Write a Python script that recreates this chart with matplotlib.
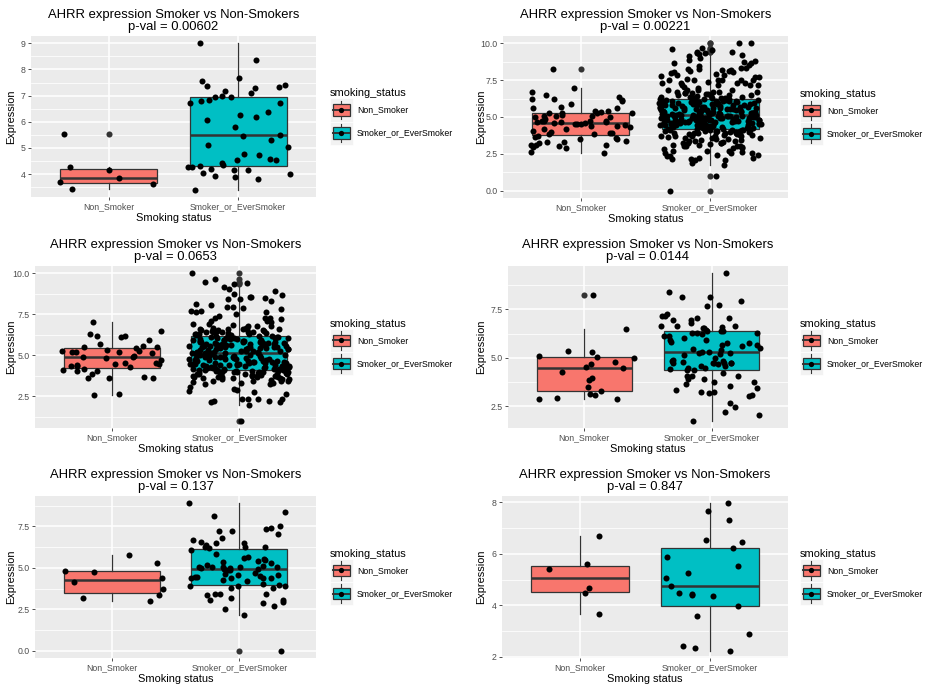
import numpy as np
import matplotlib
matplotlib.use("Agg")
import matplotlib.pyplot as plt
from matplotlib.ticker import AutoMinorLocator, FixedLocator, FormatStrFormatter
from matplotlib.patches import Rectangle
from matplotlib.lines import Line2D

plt.rcParams["font.family"] = ["Liberation Sans", "DejaVu Sans"]

# ------------------ data ------------------
CATEGORIES = ["Non_Smoker", "Smoker_or_EverSmoker"]
P_VALUES = ["0.00602", "0.00221", "0.0653", "0.0144", "0.137", "0.847"]
Y_TICKS = [
    [4, 5, 6, 7, 8, 9],
    [0.0, 2.5, 5.0, 7.5, 10.0],
    [2.5, 5.0, 7.5, 10.0],
    [2.5, 5.0, 7.5],
    [0.0, 2.5, 5.0, 7.5],
    [2, 4, 6, 8],
]
Y_FORMATS = ["%d", "%.1f", "%.1f", "%.1f", "%.1f", "%d"]

p1_non = [4.25, 4.14, 3.85, 3.71, 3.41, 3.63, 5.54]
p1_smk = [9.00, 7.39, 7.11, 7.19, 7.66, 7.29, 6.96, 6.80, 6.38, 6.18, 6.24, 5.32,
          5.45, 5.05, 5.10, 4.78, 4.52, 4.35, 4.16, 4.21, 4.59, 4.52, 4.29, 3.90,
          3.91, 3.40, 7.32, 6.96, 7.55, 8.35, 7.35, 6.70, 6.85, 6.72, 6.08, 7.00,
          5.78, 5.51, 4.74, 4.44, 4.25, 4.02, 3.99, 4.14, 3.82, 4.25]

p2_non = [6.70, 5.60, 4.74, 4.67, 5.15, 3.68, 3.32, 3.12, 3.57, 4.51, 4.74, 4.63,
          5.24, 4.97, 4.40, 6.09, 6.25, 3.91, 3.86, 3.23, 2.60, 3.02, 2.55, 3.50,
          3.54, 3.95, 5.26, 5.08, 4.29, 3.39, 3.27, 6.95, 5.71, 4.72, 4.06, 3.12,
          5.87, 6.21, 4.40, 3.09, 4.58, 5.26, 5.35, 4.97, 4.45, 4.18, 3.84, 4.74,
          4.51, 3.88, 6.14, 5.42, 2.93, 2.87, 6.50, 5.26, 5.08, 4.58, 4.18, 3.61,
          6.39, 5.42, 4.85, 4.51, 4.63, 5.08, 8.24, 5.64]
p2_smk = [
    # below the box
    0.00, 1.00, 1.76, 1.87, 2.10, 2.10, 2.14, 2.14, 2.21, 2.21,
    2.32, 2.32, 2.44, 2.44, 2.55, 2.55, 2.55, 2.61, 2.66, 2.66,
    2.72, 2.80, 2.89, 2.89, 2.95, 3.00, 3.00, 3.00, 3.06, 3.12,
    3.12, 3.18, 3.23, 3.23, 3.23, 3.23, 3.29, 3.34, 3.34, 3.40,
    3.45, 3.45, 3.50, 3.52, 3.57, 3.57, 3.60, 3.64, 3.68, 3.68,
    3.68, 3.70, 3.72, 3.75, 3.78, 3.80, 3.83, 3.85, 3.88, 3.90,
    3.90, 3.90, 3.92, 3.95, 3.97, 4.00, 4.00, 4.02, 4.04, 4.05,
    4.07, 4.08, 4.10, 4.11, 4.12, 4.13, 4.14, 4.15, 4.16, 4.17,
    # inside the box
    4.19, 4.21, 4.24, 4.24, 4.27, 4.30, 4.31, 4.33, 4.36, 4.37,
    4.39, 4.40, 4.43, 4.44, 4.46, 4.48, 4.49, 4.52, 4.53, 4.55,
    4.56, 4.58, 4.60, 4.61, 4.63, 4.64, 4.66, 4.67, 4.70, 4.71,
    4.72, 4.74, 4.75, 4.77, 4.78, 4.79, 4.81, 4.82, 4.84, 4.85,
    4.86, 4.88, 4.89, 4.90, 4.92, 4.93, 4.94, 4.95, 4.97, 4.98,
    4.99, 5.00, 5.01, 5.02, 5.03, 5.04, 5.05, 5.05, 5.06, 5.07,
    4.28, 4.35, 4.51, 4.62, 4.69, 4.80, 4.91, 5.08, 4.45, 4.57,
    4.73, 4.87, 4.96, 5.09, 4.22, 4.41, 4.59, 4.76, 4.83, 5.10,
    5.11, 5.13, 5.14, 5.16, 5.17, 5.19, 5.21, 5.22, 5.24, 5.25,
    5.27, 5.29, 5.30, 5.32, 5.34, 5.35, 5.37, 5.39, 5.41, 5.42,
    5.44, 5.46, 5.48, 5.49, 5.51, 5.53, 5.55, 5.56, 5.58, 5.60,
    5.62, 5.64, 5.66, 5.67, 5.69, 5.71, 5.73, 5.75, 5.77, 5.79,
    5.81, 5.83, 5.85, 5.87, 5.89, 5.91, 5.93, 5.95, 5.97, 5.99,
    6.01, 6.03, 6.05, 6.07, 6.09, 6.11, 6.13, 6.15, 6.17, 6.20,
    5.15, 5.28, 5.45, 5.63, 5.80, 5.98, 6.12, 6.22, 5.20, 5.38,
    5.52, 5.70, 5.88, 6.04, 6.18, 6.24, 5.33, 5.59, 5.84, 6.10,
    # above the box
    9.03, 8.87, 8.76, 7.56, 7.29, 7.02, 6.39, 6.39, 8.01, 7.74,
    7.34, 8.15, 6.73, 6.39, 6.95, 7.52, 8.46, 7.79, 7.16, 7.52,
    8.24, 6.84, 6.50, 7.18, 9.14, 9.32, 8.08, 8.31, 7.52, 6.73,
    7.86, 7.29, 9.44, 10.00, 10.00, 9.70, 9.60, 8.65, 8.19, 7.52,
    8.15, 6.84, 7.52, 7.16, 7.40, 6.84, 7.74, 8.31, 9.28, 9.44,
    8.78, 8.24, 7.52, 6.84, 9.32, 9.55, 9.21, 8.53, 8.65, 8.19,
    7.86, 8.08, 7.29, 7.93, 7.18, 6.50, 6.73, 6.61, 6.27, 6.30,
    6.32, 6.35, 6.42, 6.45, 6.48, 6.55, 6.58, 6.62, 6.66, 6.70,
]

p3_non = [7.00, 5.90, 6.09, 6.47, 4.02, 5.50, 5.24, 5.18, 4.89, 4.97, 4.83, 4.53,
          4.16, 4.12, 4.28, 3.59, 3.59, 3.59, 3.68, 4.73, 5.14, 4.47, 4.43, 4.32,
          5.50, 6.15, 5.18, 5.22, 5.26, 4.53, 4.06, 6.15, 5.30, 5.42, 5.58, 5.68,
          4.47, 4.32, 6.31, 4.89, 3.84, 2.56, 2.60]
p3_smk = [
    # below the box
    3.96, 3.55, 3.31, 3.04, 2.84, 3.69, 3.85, 3.45, 3.96, 2.64,
    2.13, 2.33, 3.45, 3.31, 2.33, 3.25, 2.23, 2.90, 3.75, 3.65,
    3.55, 3.45, 2.33, 2.23, 2.13, 3.65, 3.45, 2.94, 3.25, 2.33,
    1.97, 3.96, 3.75, 3.35, 2.74, 3.55, 3.65, 3.96, 1.00, 3.50,
    3.58, 3.60, 3.62, 3.68, 3.70, 3.72, 3.74, 3.78, 3.80, 3.82,
    3.84, 3.86, 3.88, 3.90, 3.91, 3.93, 3.95, 3.98, 4.00, 4.01,
    4.02, 4.04, 4.05, 4.06, 4.07, 4.08, 4.09, 4.10, 4.11, 4.11,
    # inside the box
    4.13, 4.15, 4.16, 4.18, 4.20, 4.22, 4.24, 4.25, 4.27, 4.29,
    4.31, 4.33, 4.35, 4.37, 4.38, 4.40, 4.42, 4.44, 4.46, 4.48,
    4.50, 4.52, 4.53, 4.55, 4.57, 4.59, 4.61, 4.63, 4.65, 4.67,
    4.69, 4.71, 4.73, 4.75, 4.77, 4.79, 4.81, 4.83, 4.85, 4.87,
    4.89, 4.91, 4.93, 4.95, 4.97, 4.99, 5.01, 5.03, 5.05, 5.07,
    5.09, 5.11, 5.13, 5.14, 4.26, 4.41, 4.58, 4.74, 4.90, 5.06,
    4.19, 4.34, 4.49, 4.64, 4.80, 4.96, 5.12, 4.45, 4.86, 5.15,
    5.16, 5.18, 5.20, 5.22, 5.24, 5.26, 5.28, 5.30, 5.32, 5.34,
    5.36, 5.38, 5.40, 5.41, 5.43, 5.45, 5.47, 5.49, 5.51, 5.52,
    5.54, 5.56, 5.58, 5.60, 5.61, 5.63, 5.65, 5.67, 5.69, 5.70,
    5.72, 5.74, 5.76, 5.78, 5.80, 5.82, 5.84, 5.86, 5.88, 5.90,
    5.92, 5.94, 5.96, 5.98, 6.00, 6.02, 6.04, 6.06, 6.08, 6.10,
    6.12, 6.14, 6.16, 6.18, 5.44, 5.55, 5.62, 5.73, 5.85, 5.57,
    5.48, 5.66, 5.79, 5.91, 6.05, 5.25, 5.35, 5.53, 5.68, 5.83,
    # above the box
    10.00, 9.63, 9.45, 9.33, 9.19, 9.03, 8.92, 9.40, 8.58, 8.46,
    8.32, 8.42, 8.50, 8.66, 8.58, 7.97, 7.30, 7.20, 7.61, 7.30,
    7.10, 6.84, 6.63, 6.69, 6.79, 7.91, 8.05, 7.97, 8.11, 6.79,
    6.55, 7.71, 7.40, 7.10, 6.90, 6.59, 7.00, 6.59, 7.71, 7.85,
    7.30, 6.69, 6.43, 6.79, 6.63, 6.63, 6.55, 6.90, 6.39, 6.39,
    6.39, 6.39, 6.29, 6.20, 6.21, 6.23, 6.25, 6.26, 6.28, 6.30,
    6.32, 6.34, 6.36, 6.45, 6.48, 6.50, 6.52, 7.50, 7.62, 8.72,
]

p4_non = [8.26, 2.88, 2.85, 4.78, 4.66, 5.32, 5.10, 4.45, 4.27, 3.87, 3.48,
          6.50, 3.09, 4.98, 2.94, 3.29, 3.94, 4.50, 5.05, 3.14, 5.36]
p4_smk = [9.35, 8.41, 8.12, 7.68, 8.12, 7.73, 7.05, 6.96, 6.79, 7.27,
          6.59, 6.11, 6.03, 5.91, 6.37, 6.11, 5.68, 5.12, 4.83, 4.80,
          6.37, 6.28, 5.43, 5.29, 5.22, 5.68, 4.75, 4.49, 4.43, 4.37,
          4.37, 6.37, 6.54, 6.28, 5.80, 5.39, 4.83, 4.75, 4.75, 4.71,
          6.62, 7.05, 6.28, 5.91, 5.26, 4.49, 4.24, 4.57, 4.75, 4.66,
          6.62, 5.77, 5.60, 5.26, 5.00, 4.75, 5.51, 7.13, 6.96, 6.20,
          7.90, 6.62, 6.54, 7.13, 5.77, 5.29, 4.86, 4.57, 6.45, 4.07,
          3.90, 3.73, 3.64, 3.25, 3.42, 3.18, 4.07, 3.25, 3.73, 3.04,
          2.66, 3.07, 4.07, 3.54, 3.90, 3.35, 2.44, 2.19, 2.07, 1.76]

p5_non = [3.02, 3.15, 5.26, 4.40, 4.80, 4.72, 3.75, 3.35, 5.75, 4.15]
p5_smk = [8.89, 8.15, 8.39, 7.42, 7.22, 7.34, 7.54, 7.20, 7.02, 6.51,
          6.79, 6.67, 6.23, 6.23, 6.07, 6.47, 6.37, 6.23, 6.53, 6.17,
          5.83, 5.67, 5.28, 5.48, 5.52, 5.44, 5.58, 5.38, 5.18, 5.04,
          4.88, 4.68, 4.42, 4.64, 5.04, 4.92, 5.12, 5.04, 4.92, 4.98,
          4.84, 4.98, 5.04, 5.04, 4.48, 4.58, 4.38, 4.38, 4.58, 4.28,
          4.19, 4.42, 4.38, 4.38, 3.89, 3.93, 3.79, 3.89, 3.79, 3.39,
          3.33, 3.43, 2.86, 3.19, 3.39, 3.06, 2.70, 2.50, 2.16, 2.94,
          3.06, 0.00, 3.97, 4.02]

p6_non = [6.69, 3.67, 4.47, 4.69, 5.41, 5.59]
p6_smk = [7.96, 7.68, 7.32, 6.52, 6.45, 6.22, 5.86, 5.54, 5.24, 5.05, 4.76,
          4.42, 4.35, 4.43, 4.47, 3.99, 3.58, 2.89, 2.42, 2.24, 2.34]

NON = [p1_non, p2_non, p3_non, p4_non, p5_non, p6_non]
SMK = [p1_smk, p2_smk, p3_smk, p4_smk, p5_smk, p6_smk]

# ------------------ layout / style ------------------
W, H = 941, 690
# panel boxes in pixels: left, top, right, bottom
PANELS = [(31, 36, 316, 197), (503, 36, 788, 198),
          (35, 266, 316, 428), (508, 266, 788, 428),
          (35, 496, 316, 658), (502, 496, 788, 658)]
COL_X = [0, 470]        # left edge of each figure column
LEGEND_X = [330, 800]
FILLS = ["#F8766D", "#00BFC4"]
DARK = "#333333"
TICK_FS = 6.3
LAB_FS = 7.9
TITLE_FS = 9.4


class BoxKey:
    def __init__(self, fill):
        self.fill = fill


class BoxKeyHandler:
    # ggplot-like boxplot legend key with the jitter dot on top
    def legend_artist(self, legend, orig_handle, fontsize, handlebox):
        x0, y0 = -handlebox.xdescent, -handlebox.ydescent
        w, h = handlebox.width, handlebox.height
        tr = handlebox.get_transform()
        cx, cy = x0 + w / 2, y0 + h / 2
        bg = Rectangle((x0, y0), w, h, facecolor="#F2F2F2", edgecolor="white",
                       linewidth=0.5, transform=tr)
        whisk = Line2D([cx, cx], [y0 + 0.1 * h, y0 + 0.9 * h], color=DARK,
                       linewidth=0.8, transform=tr)
        box = Rectangle((x0 + 0.125 * w, y0 + 0.25 * h), 0.75 * w, 0.5 * h,
                        facecolor=orig_handle.fill, edgecolor=DARK,
                        linewidth=0.9, transform=tr)
        med = Line2D([x0 + 0.125 * w, x0 + 0.875 * w], [cy, cy], color=DARK,
                     linewidth=1.4, transform=tr)
        dot = Line2D([cx], [cy], marker="o", markersize=3.8, color="black",
                     markeredgewidth=0, linestyle="none", transform=tr)
        for a in (bg, whisk, box, med, dot):
            handlebox.add_artist(a)
        return box


rng = np.random.default_rng(11)  # horizontal jitter, like geom_jitter(width=0.4)

fig = plt.figure(figsize=(W / 100, H / 100), dpi=100)

for i, (l, t, r, b) in enumerate(PANELS):
    ax = fig.add_axes([l / W, 1 - b / H, (r - l) / W, (b - t) / H])
    ax.set_facecolor("#EBEBEB")
    for s in ax.spines.values():
        s.set_visible(False)

    groups = [NON[i], SMK[i]]
    bp = ax.boxplot(groups, positions=[1, 2], widths=0.75, patch_artist=True,
                    showcaps=False, whis=1.5, manage_ticks=False,
                    boxprops=dict(edgecolor=DARK, linewidth=0.9),
                    whiskerprops=dict(color=DARK, linewidth=0.9),
                    medianprops=dict(color=DARK, linewidth=1.8),
                    flierprops=dict(marker="o", markerfacecolor=DARK,
                                    markeredgewidth=0, markersize=4.4))
    for patch, col in zip(bp["boxes"], FILLS):
        patch.set_facecolor(col)
        patch.set_zorder(2)

    for pos, vals in zip([1, 2], groups):
        off = rng.uniform(-0.4, 0.4, len(vals))
        ax.scatter(pos + off, vals, s=19, color="black", linewidths=0, zorder=3)

    allv = np.array(groups[0] + groups[1])
    rngv = allv.max() - allv.min()
    ax.set_ylim(allv.min() - 0.05 * rngv, allv.max() + 0.05 * rngv)
    ax.set_xlim(0.4, 2.6)

    ax.set_xticks([1, 2])
    ax.set_xticklabels(CATEGORIES)
    ax.yaxis.set_major_locator(FixedLocator(Y_TICKS[i]))
    ax.yaxis.set_major_formatter(FormatStrFormatter(Y_FORMATS[i]))
    ax.yaxis.set_minor_locator(AutoMinorLocator(2))
    ax.set_axisbelow(True)
    ax.grid(which="major", color="white", linewidth=1.1)
    ax.grid(which="minor", axis="y", color="white", linewidth=0.55)
    ax.tick_params(which="major", length=2.2, width=0.6, color=DARK,
                   labelsize=TICK_FS, labelcolor="#4D4D4D", pad=1.5)
    ax.tick_params(which="minor", length=0)

    ax.set_xlabel("Smoking status", fontsize=LAB_FS, labelpad=1)
    ax.set_ylabel("Expression", fontsize=LAB_FS)
    # y titles sit at a fixed distance from the figure column edge, as in ggplot
    lab_x = COL_X[i % 2] + 16.5
    ax.yaxis.set_label_coords((lab_x - l) / (r - l), 0.5)
    ax.set_title("AHRR expression Smoker vs Non-Smokers\np-val = " + P_VALUES[i],
                 fontsize=TITLE_FS, linespacing=1.1, pad=4)

    cy = (t + b) / 2
    fig.legend([BoxKey(c) for c in FILLS], CATEGORIES, title="smoking_status",
               handler_map={BoxKey: BoxKeyHandler()},
               loc="center left", bbox_to_anchor=(LEGEND_X[i % 2] / W, 1 - cy / H),
               frameon=False, fontsize=TICK_FS, title_fontsize=LAB_FS,
               handlelength=2.6, handleheight=3.67, labelspacing=0.0,
               handletextpad=0.5, borderpad=0, borderaxespad=0,
               alignment="left")

fig.savefig("out.png", dpi=100)
